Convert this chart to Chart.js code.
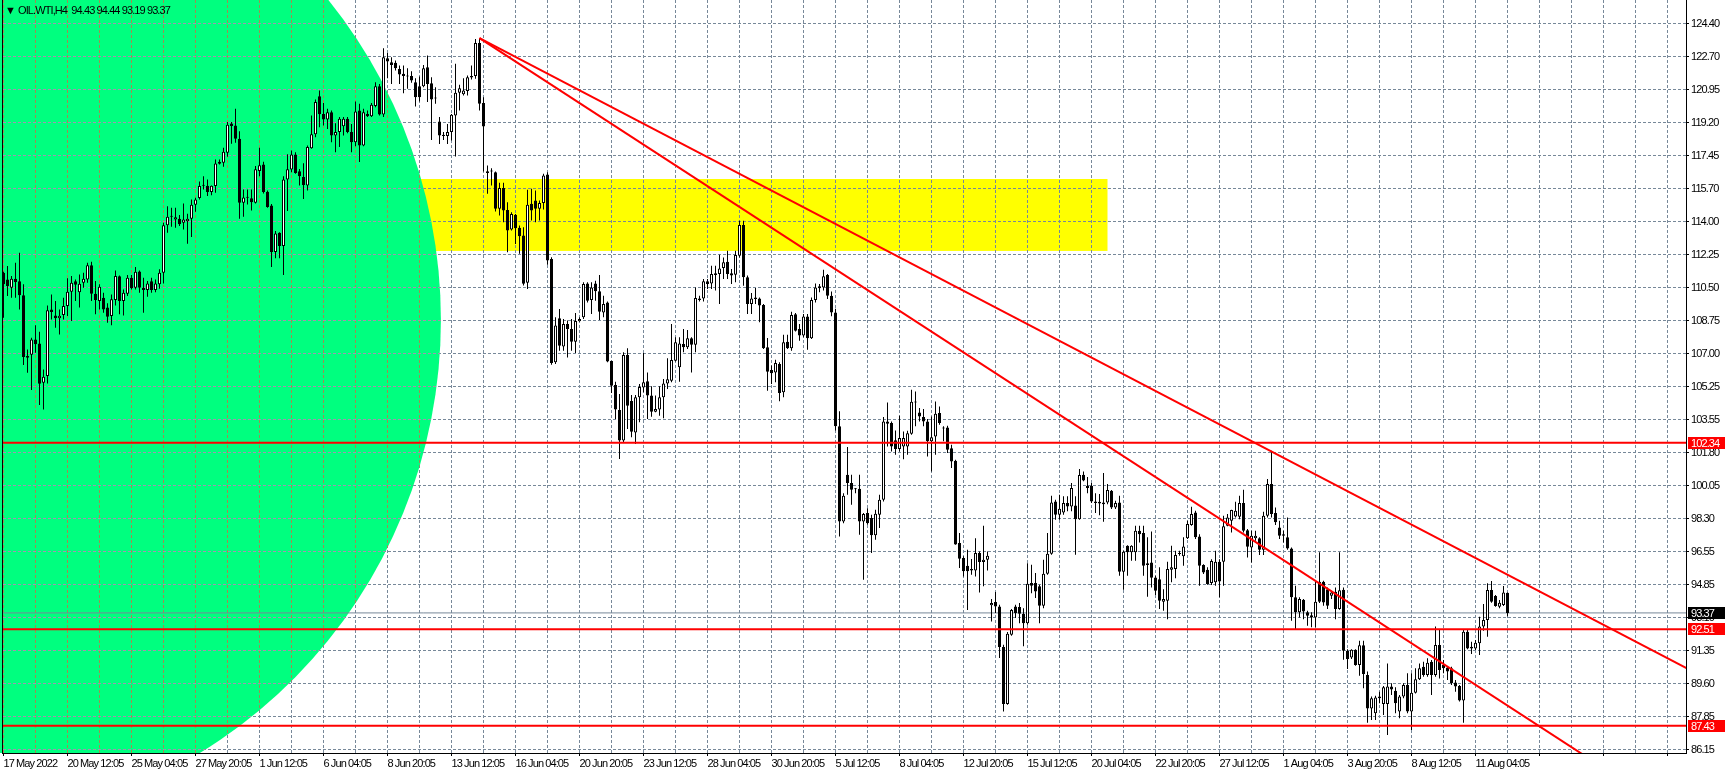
<!DOCTYPE html>
<html>
<head>
<meta charset="utf-8">
<title>OIL.WTI,H4</title>
<script src="https://cdn.jsdelivr.net/npm/chart.js@4.4.1/dist/chart.umd.min.js"></script>
<style>
  html, body { margin: 0; padding: 0; background: #ffffff; }
  #wrap { width: 1727px; height: 774px; }
</style>
</head>
<body>
<div id="wrap"><canvas id="chart" width="1727" height="774"></canvas></div>
<script>
// OIL.WTI H4 candles (one value per bar)
const symbol = 'OIL.WTI,H4';
const lastQuote = [94.43, 94.44, 93.19, 93.37];

const xLabels = ['17 May 2022', '20 May 12:05', '25 May 04:05', '27 May 20:05', '1 Jun 12:05',
  '6 Jun 04:05', '8 Jun 20:05', '13 Jun 12:05', '16 Jun 04:05', '20 Jun 20:05', '23 Jun 12:05',
  '28 Jun 04:05', '30 Jun 20:05', '5 Jul 12:05', '8 Jul 04:05', '12 Jul 20:05', '15 Jul 12:05',
  '20 Jul 04:05', '22 Jul 20:05', '27 Jul 12:05', '1 Aug 04:05', '3 Aug 20:05', '8 Aug 12:05',
  '11 Aug 04:05'];

const yLabels = ['86.15', '87.85', '89.60', '91.35', '93.10', '94.85', '96.55', '98.30', '100.05',
  '101.80', '103.55', '105.25', '107.00', '108.75', '110.50', '112.25', '114.00', '115.70',
  '117.45', '119.20', '120.95', '122.70', '124.40'];

const opens = [
  111.29,110.94,110.50,110.98,110.84,110.10,106.90,106.97,107.78,107.57,
  105.50,105.85,109.36,109.04,108.90,109.06,109.54,110.29,110.84,110.27,
  110.76,110.94,111.68,110.19,109.80,109.97,109.46,109.01,109.85,111.10,
  109.80,110.19,111.03,110.50,111.36,110.50,110.38,110.84,110.38,110.69,
  111.29,113.79,114.24,114.10,114.13,113.93,114.01,114.13,114.87,115.23,
  115.87,115.87,115.54,115.86,117.03,117.09,117.61,119.16,119.05,118.35,
  114.98,115.24,115.21,114.98,116.65,117.00,115.56,114.84,112.38,113.40,
  112.70,116.21,116.73,117.52,116.64,116.33,115.89,117.85,118.59,120.59,
  119.66,119.36,119.75,118.52,118.70,119.01,119.40,118.70,118.17,119.84,
  117.99,119.66,119.54,120.07,121.12,119.63,122.59,122.38,122.35,122.03,
  121.77,121.65,121.66,121.33,121.12,121.12,122.12,121.28,120.49,119.26,
  118.56,118.49,118.70,119.57,120.77,120.70,120.86,121.58,121.65,123.40,
  120.24,116.54,116.62,116.59,114.66,115.76,114.60,113.57,114.34,113.66,
  113.25,110.76,114.92,115.10,114.66,114.97,116.47,112.02,106.58,108.89,
  107.41,108.59,108.33,107.66,108.73,108.94,110.73,109.85,110.73,110.31,
  109.20,109.73,106.64,105.38,104.06,102.45,106.96,104.53,102.88,104.73,
  105.25,105.57,104.82,103.97,104.08,104.73,105.46,105.60,106.66,106.31,
  107.54,107.36,107.84,107.50,109.85,109.94,110.84,110.73,111.17,111.23,
  111.54,111.87,111.26,111.19,112.19,113.81,111.05,109.64,109.91,109.94,
  109.59,107.36,106.17,106.04,106.48,104.99,107.66,107.31,109.10,108.33,
  107.98,108.98,107.84,109.85,110.47,110.52,111.17,110.08,109.20,103.20,
  98.19,100.65,100.21,99.91,99.91,98.19,98.63,98.37,97.46,98.54,
  99.33,103.46,103.37,102.46,102.00,102.14,102.14,102.81,104.51,103.93,
  103.69,103.46,102.41,102.67,103.90,103.11,103.14,102.05,101.39,97.05,
  96.26,95.86,95.68,95.61,96.52,96.05,96.17,93.77,93.94,93.71,
  91.57,88.57,92.22,93.71,93.68,93.33,92.83,94.94,94.94,94.77,
  93.75,95.43,96.49,99.24,98.54,98.66,99.16,98.98,99.03,98.31,
  100.65,100.07,100.07,99.24,99.23,99.10,99.19,99.81,98.93,99.19,
  95.54,96.91,96.56,96.56,97.70,97.58,95.99,96.03,95.24,95.15,
  93.96,94.01,95.64,95.68,96.47,96.35,97.31,98.00,98.66,97.40,
  95.89,95.64,94.94,94.98,96.07,96.07,97.96,98.23,98.45,98.44,
  99.16,97.73,96.82,97.31,97.31,96.70,98.49,100.16,98.63,97.87,
  97.44,97.35,96.77,94.19,93.40,94.06,93.40,93.25,93.13,95.01,
  95.01,94.62,94.27,94.48,93.57,94.59,91.38,91.02,91.43,90.62,
  91.67,90.10,88.34,88.08,88.87,88.57,88.57,89.49,89.27,88.17,
  88.96,89.57,88.17,89.17,89.87,90.54,90.10,90.80,90.10,91.68,
  90.63,90.49,90.45,89.70,89.52,88.75,92.38,91.59,91.50,91.77,
  92.65,93.00,94.58,94.26,93.70,93.79,94.43
];

const highs = [
  111.35,111.64,111.12,111.82,112.35,110.68,107.25,107.87,108.52,108.18,
  106.20,109.57,110.15,109.80,109.36,109.97,111.00,111.12,110.94,111.20,
  111.29,111.82,111.87,110.85,110.68,110.24,109.68,110.15,111.41,111.15,
  110.41,111.17,111.17,111.59,111.41,111.03,110.85,111.03,110.94,111.47,
  113.93,114.80,114.72,114.72,114.33,114.94,114.40,115.15,115.24,116.10,
  116.37,116.21,115.89,117.26,117.26,117.88,119.23,119.23,119.93,118.75,
  115.68,115.68,115.68,116.91,117.88,117.14,115.63,114.91,113.49,113.42,
  116.37,117.53,117.73,117.64,116.76,117.06,117.99,119.57,120.42,120.89,
  120.24,119.93,119.84,119.17,119.49,119.49,119.49,119.13,120.31,120.19,
  119.93,119.84,120.24,121.33,121.24,123.12,122.87,122.65,122.47,122.21,
  122.21,122.07,121.91,121.54,121.63,122.24,122.73,121.59,121.07,119.49,
  118.70,119.13,119.66,122.30,121.19,121.54,121.68,122.21,123.61,123.65,
  120.54,116.94,116.80,116.62,116.03,116.03,115.01,114.48,114.39,113.78,
  113.69,115.66,115.71,115.62,115.10,116.50,116.59,112.11,108.95,109.38,
  108.85,108.77,108.85,109.17,108.94,110.79,110.79,110.79,110.87,111.17,
  110.08,109.77,106.66,105.55,104.90,107.10,107.31,104.85,104.85,105.43,
  107.06,106.04,105.31,104.82,105.31,105.69,106.78,108.59,107.89,107.89,
  108.33,108.27,107.89,110.52,110.08,110.96,110.96,111.66,111.66,112.24,
  112.10,112.45,111.49,112.45,114.03,114.03,111.14,110.22,110.49,109.99,
  109.64,107.85,106.40,106.71,106.57,108.03,108.03,109.24,109.17,108.59,
  109.12,109.12,109.99,110.73,110.70,111.45,111.23,110.30,109.40,103.99,
  99.68,102.11,100.65,99.95,100.65,98.63,98.89,98.54,98.81,99.60,
  103.69,104.46,103.46,102.98,103.76,102.93,102.97,105.13,105.04,104.16,
  104.11,103.58,103.72,104.51,104.25,103.20,103.23,102.23,101.44,97.58,
  96.35,96.70,96.21,97.31,96.61,97.96,96.61,94.10,94.47,93.80,
  91.69,92.36,93.57,93.80,93.89,93.62,95.99,95.91,95.47,94.85,
  96.17,97.58,99.54,99.33,99.60,99.51,99.51,100.21,99.51,100.95,
  100.82,100.53,100.21,99.68,99.63,100.74,100.16,99.84,99.28,99.54,
  96.64,96.94,96.94,97.96,97.96,97.96,97.35,97.66,95.33,95.77,
  94.62,96.07,96.91,96.64,96.64,97.35,98.23,98.96,98.75,97.52,
  95.94,95.77,96.20,96.64,96.20,98.49,98.58,98.80,99.23,99.54,
  99.86,97.79,97.70,97.70,97.35,98.70,100.42,101.91,98.93,98.23,
  97.70,98.40,96.82,94.80,94.19,94.10,93.48,93.40,95.10,96.56,
  95.06,94.71,94.54,94.71,96.56,94.71,91.46,91.46,91.46,91.90,
  91.90,90.28,88.96,89.00,89.22,89.52,90.71,89.66,89.45,89.05,
  89.66,90.19,90.19,90.45,90.71,90.80,90.98,90.89,92.65,92.47,
  90.89,90.54,90.54,89.83,89.57,92.47,92.47,91.85,91.94,93.17,
  93.84,94.93,95.05,94.31,94.05,94.79,94.44
];

const lows = [
  108.92,110.06,109.97,109.97,109.36,106.43,106.02,105.11,107.08,104.32,
  104.09,105.46,108.83,108.39,108.04,108.83,109.01,108.75,109.80,109.46,
  110.50,110.76,109.80,109.10,109.36,109.18,108.66,108.52,109.57,109.10,
  109.04,110.06,110.41,110.41,110.24,109.18,110.03,110.24,110.27,110.45,
  110.73,113.40,113.71,113.66,113.75,113.57,112.82,113.17,114.50,115.15,
  115.68,115.33,115.37,115.51,117.00,116.88,117.40,118.09,118.14,114.13,
  114.24,114.89,114.57,114.94,116.37,115.47,114.72,111.59,112.05,112.05,
  111.17,114.54,116.59,116.50,115.89,115.18,115.62,117.82,118.43,118.96,
  119.05,118.87,118.17,117.64,117.91,118.52,118.64,117.64,117.96,117.12,
  117.96,119.49,119.49,120.01,119.57,119.49,121.54,121.24,121.94,121.24,
  120.75,120.98,121.30,120.05,120.31,121.07,120.28,118.29,120.19,118.08,
  118.29,118.08,118.26,117.41,119.84,120.63,120.63,121.47,121.51,119.84,
  116.62,115.45,115.89,114.52,114.31,113.95,112.37,113.52,112.81,112.29,
  110.62,110.44,114.04,113.95,114.04,114.62,111.71,106.44,106.49,107.18,
  107.18,106.83,107.18,107.06,108.71,108.85,109.73,109.12,109.82,108.80,
  108.94,106.57,104.96,103.59,101.48,102.36,103.06,102.62,102.27,103.41,
  104.99,103.59,103.71,103.94,103.76,103.62,105.17,105.52,106.61,105.55,
  107.10,107.27,106.04,107.10,109.77,109.77,110.44,110.44,110.35,109.64,
  110.96,110.96,110.70,110.79,112.10,110.61,109.12,109.12,109.64,108.68,
  107.27,105.08,105.43,105.52,104.52,104.73,107.27,107.18,108.19,107.71,
  107.89,107.24,107.80,109.73,110.26,110.35,109.91,109.00,102.98,97.40,
  98.10,99.60,99.07,99.68,97.49,95.12,98.01,96.52,97.22,97.84,
  99.24,102.14,101.88,101.70,101.88,101.47,101.70,102.76,103.20,103.46,
  103.20,101.61,100.82,101.70,103.28,102.41,101.79,101.00,96.96,95.73,
  95.29,93.53,95.38,95.29,94.45,94.77,95.61,92.92,93.36,90.99,
  88.18,88.53,92.17,93.10,92.83,91.61,92.75,94.41,94.15,92.83,
  93.62,95.38,96.43,98.28,98.28,98.54,98.72,98.72,96.43,98.28,
  100.30,99.68,99.16,98.63,98.52,98.17,99.10,98.84,98.84,95.33,
  94.59,95.33,96.12,96.12,97.08,95.33,94.22,94.71,94.31,93.57,
  93.48,93.04,94.98,95.19,96.38,95.85,97.26,97.96,97.26,94.80,
  95.42,94.85,94.84,94.80,94.19,94.80,97.93,97.61,98.40,98.31,
  97.61,96.29,96.03,97.17,96.42,96.42,98.40,98.40,98.00,97.26,
  97.08,96.70,92.96,92.52,93.13,93.04,92.69,92.61,92.61,93.89,
  93.75,93.57,94.10,93.04,93.54,90.90,90.41,90.94,90.59,90.06,
  89.40,87.59,87.73,87.73,88.61,87.99,86.94,89.05,88.08,87.82,
  88.87,88.08,87.20,89.13,89.83,90.01,90.01,89.05,90.01,89.92,
  90.19,89.83,89.57,89.22,88.70,87.59,91.45,91.21,91.42,91.15,
  92.43,92.12,93.91,93.70,93.61,93.73,93.19
];

const closes = [
  110.68,110.59,110.98,110.80,110.10,106.85,106.81,107.78,107.52,105.44,
  105.81,109.31,109.22,108.90,109.03,109.54,110.29,110.76,110.66,110.71,
  110.98,111.68,110.19,109.85,110.55,109.36,108.97,109.89,111.12,109.80,
  110.24,111.03,110.47,111.34,110.50,110.38,110.73,110.38,110.73,111.29,
  113.79,114.24,114.26,114.21,113.84,114.10,114.13,114.87,115.15,115.86,
  115.89,115.54,115.87,117.05,117.14,117.67,119.09,119.02,118.35,114.98,
  115.26,115.26,115.01,116.74,116.95,115.54,114.75,112.38,113.36,112.70,
  116.21,116.74,117.52,116.55,116.38,115.92,117.91,118.59,120.28,119.64,
  119.36,119.75,118.52,118.70,119.40,119.40,118.70,118.17,119.78,117.99,
  119.75,119.54,120.14,121.12,119.63,122.65,122.42,122.24,122.07,121.73,
  121.65,121.63,121.42,120.54,120.54,122.07,121.24,120.42,120.47,118.52,
  118.49,118.70,119.61,120.77,121.01,120.89,121.59,121.65,123.40,120.19,
  119.00,116.64,116.64,114.66,115.75,114.57,113.52,114.38,113.64,113.22,
  110.71,114.87,114.57,114.66,114.97,116.41,111.93,106.53,108.51,107.45,
  108.59,108.33,107.66,108.75,108.85,110.70,109.82,110.52,110.31,109.24,
  109.64,106.61,105.34,104.08,102.45,106.96,104.29,102.92,104.73,105.27,
  105.52,104.82,103.97,104.11,104.73,105.46,105.68,106.69,107.63,107.57,
  107.36,107.84,107.50,109.96,109.94,110.84,110.70,111.23,111.26,111.52,
  111.84,111.23,111.14,112.23,113.81,111.05,109.64,109.94,109.99,109.56,
  107.31,106.08,105.99,106.54,104.96,107.63,107.31,109.06,108.24,107.98,
  108.98,107.84,109.85,110.52,110.58,111.10,110.08,109.20,103.20,98.19,
  99.54,100.21,99.86,99.89,98.19,98.58,98.10,97.46,98.59,99.33,
  103.46,103.34,102.14,102.00,102.58,102.58,102.84,104.50,104.46,103.72,
  103.46,102.41,102.62,103.86,103.37,103.09,101.97,101.35,96.98,96.22,
  95.56,95.56,95.61,96.52,96.05,96.17,96.38,93.89,93.71,91.57,
  88.57,92.27,93.53,93.36,93.33,92.83,94.91,94.80,94.50,93.75,
  95.43,96.49,99.19,98.54,98.86,99.16,98.98,99.95,98.31,100.63,
  100.35,99.95,99.24,99.16,99.14,99.19,99.84,98.93,99.16,95.54,
  96.59,96.56,96.91,97.70,97.52,95.85,95.89,95.22,94.54,94.01,
  94.10,95.68,95.77,96.42,96.49,96.87,98.05,98.58,97.35,95.85,
  95.50,94.89,96.10,96.07,95.03,97.93,98.40,98.79,98.75,99.16,
  97.70,96.86,97.44,97.44,96.70,98.49,100.16,98.58,98.14,97.44,
  97.52,96.77,94.19,93.40,94.10,93.45,93.22,93.13,93.96,93.96,
  93.92,93.75,94.45,93.57,94.57,91.38,90.94,91.43,90.62,91.67,
  90.15,88.34,88.87,88.92,88.96,89.45,89.49,89.34,88.61,88.96,
  89.57,88.17,89.17,89.87,90.45,90.10,90.75,90.10,91.68,90.36,
  90.45,90.28,89.66,89.49,88.75,92.38,91.50,91.50,91.80,92.65,
  93.00,94.58,93.96,93.73,93.91,94.44,93.37
];

// chart objects, anchored in bar index / price
const levels = [102.34, 92.51, 87.43];
const bidPrice = 93.37;
const trendStart = [119, 123.65];
const trendEnds = [[430, 89.45], [430, 81.10]];
const zoneBars = [60, 276];
const zonePrices = [112.44, 116.23];
const ellipseCenter = [-14.9, 108.80];
const ellipseRadius = [124.25, 26.61];

const FONT = "'Liberation Sans', Arial, sans-serif";
const SQUEEZE = '-0.9px';   // the terminal font is narrower than Arial
const GRID = '#778899';
const GREEN = '#00ff7f';

const wickData = opens.map((o, i) => ({ x: i, y: [lows[i], highs[i]] }));
const bodyData = opens.map((o, i) => ({ x: i, y: [o, closes[i]] }));
const isUp = i => closes[i] >= opens[i];

function lineSet(points, color, width, order) {
  return {
    type: 'line', data: points.map(p => ({ x: p[0], y: p[1] })),
    borderColor: color, borderWidth: width, pointRadius: 0, fill: false,
    tension: 0, order: order
  };
}

const alignPx = p => Math.round(p - 0.5) + 0.5;

function ellipsePath(chart) {
  const { ctx, scales: { x, y } } = chart;
  const cx = x.getPixelForValue(ellipseCenter[0]);
  const cy = y.getPixelForValue(ellipseCenter[1]);
  const rx = x.getPixelForValue(ellipseCenter[0] + ellipseRadius[0]) - cx;
  const ry = cy - y.getPixelForValue(ellipseCenter[1] + ellipseRadius[1]);
  ctx.beginPath();
  ctx.ellipse(cx, cy, rx, ry, 0, 0, Math.PI * 2);
}

const backdrop = {
  id: 'backdrop',
  beforeDraw(chart) {
    const { ctx, chartArea: a, scales: { x, y } } = chart;
    ctx.save();
    ctx.fillStyle = '#ffffff';
    ctx.fillRect(0, 0, chart.width, chart.height);
    ctx.beginPath();
    ctx.rect(0, 0, a.right, a.bottom);
    ctx.clip();
    const zx1 = x.getPixelForValue(zoneBars[0]);
    const zx2 = x.getPixelForValue(zoneBars[1]);
    const zy1 = y.getPixelForValue(zonePrices[1]);
    const zy2 = y.getPixelForValue(zonePrices[0]);
    ctx.fillStyle = '#ffff00';
    ctx.fillRect(zx1, zy1, zx2 - zx1, zy2 - zy1);
    ellipsePath(chart);
    ctx.fillStyle = GREEN;
    ctx.fill();
    ctx.restore();
    ctx.letterSpacing = SQUEEZE;
  },
  beforeDatasetsDraw(chart) {
    // grid shows in other tints where it crosses the green ellipse
    const { ctx, chartArea: a, scales: { x, y } } = chart;
    ctx.save();
    ctx.beginPath();
    ctx.rect(a.left, a.top, a.right - a.left, a.bottom - a.top);
    ctx.clip();
    ellipsePath(chart);
    ctx.clip();
    ctx.lineWidth = 1;
    ctx.setLineDash([3, 2]);
    ctx.strokeStyle = '#a08c50';
    x.ticks.forEach(t => {
      const px = alignPx(x.getPixelForValue(t.value));
      ctx.beginPath(); ctx.moveTo(px, a.top); ctx.lineTo(px, a.bottom); ctx.stroke();
    });
    ctx.strokeStyle = '#a78fb0';
    y.ticks.forEach(t => {
      const py = alignPx(y.getPixelForValue(t.value));
      ctx.beginPath(); ctx.moveTo(a.left, py); ctx.lineTo(a.right, py); ctx.stroke();
    });
    ctx.restore();
  },
  afterDraw(chart) {
    const { ctx, chartArea: a, scales: { y } } = chart;
    ctx.save();
    ctx.letterSpacing = SQUEEZE;
    // left frame
    ctx.fillStyle = '#000000';
    ctx.fillRect(a.left - 1, 0, 1, a.bottom + 1);
    // header
    ctx.font = '11px ' + FONT;
    ctx.textBaseline = 'middle';
    ctx.fillText('\u25BC', 5, 11);
    ctx.fillText(symbol + '  ' + lastQuote.map(v => v.toFixed(2)).join(' '), 18, 11);
    // price tags on the axis
    const tags = [[levels[0], '#ff0000'], [bidPrice, '#000000'], [levels[1], '#ff0000'], [levels[2], '#ff0000']];
    tags.forEach(([price, bg]) => {
      const py = Math.round(y.getPixelForValue(price));
      ctx.fillStyle = bg;
      ctx.fillRect(a.right + 2, py - 6, 37, 12);
      ctx.fillStyle = '#ffffff';
      ctx.fillText(price.toFixed(2), a.right + 5, py + 0.5);
    });
    ctx.restore();
  }
};

const yLow = Number(yLabels[0]);
const yStep = (Number(yLabels[yLabels.length - 1]) - yLow) / (yLabels.length - 1);

new Chart(document.getElementById('chart'), {
  type: 'line',
  data: {
    datasets: [
      lineSet([[-1, bidPrice], [430, bidPrice]], GRID, 1, 6),
      {
        type: 'bar', data: wickData, backgroundColor: '#000000', borderWidth: 0,
        barThickness: 1, grouped: false, inflateAmount: 0, order: 5
      },
      {
        type: 'bar', data: bodyData,
        backgroundColor: ctx => isUp(ctx.dataIndex) ? '#ffffff' : '#000000',
        borderColor: '#000000', borderWidth: 1, borderSkipped: false,
        barThickness: 3, grouped: false, inflateAmount: 0, minBarLength: 1, order: 4
      },
      lineSet([[-1, levels[0]], [430, levels[0]]], '#ff0000', 2, 1),
      lineSet([[-1, levels[1]], [430, levels[1]]], '#ff0000', 2, 1),
      lineSet([[-1, levels[2]], [430, levels[2]]], '#ff0000', 2, 1),
      lineSet([trendStart, trendEnds[0]], '#ff0000', 2, 1),
      lineSet([trendStart, trendEnds[1]], '#ff0000', 2, 1)
    ]
  },
  options: {
    responsive: false,
    animation: false,
    events: [],
    layout: { padding: { left: 3, top: 0, right: 0, bottom: 0 } },
    plugins: { legend: { display: false }, tooltip: { enabled: false } },
    scales: {
      x: {
        type: 'linear', position: 'bottom', min: -0.125, max: 420.625, offset: false,
        afterBuildTicks: s => {
          const t = [];
          for (let b = 0; b <= 416; b += 8) t.push({ value: b });
          s.ticks = t;
        },
        afterFit: s => { s.height = 21; s.paddingLeft = 0; s.paddingRight = 0; },
        ticks: {
          autoSkip: false, maxRotation: 0, minRotation: 0, align: 'start', padding: 1,
          color: '#000000', font: { family: FONT, size: 11 },
          callback: v => (v % 16 === 0 && xLabels[v / 16]) ? xLabels[v / 16] : ''
        },
        grid: {
          offset: false, color: GRID, lineWidth: 1, drawTicks: true, tickLength: 3,
          tickColor: c => (c.tick && c.tick.value % 16 === 0) ? '#000000' : 'rgba(0,0,0,0)'
        },
        border: { display: true, color: '#000000', width: 1, dash: [3, 2] }
      },
      y: {
        type: 'linear', position: 'right', min: 85.99, max: 125.66,
        afterBuildTicks: s => { s.ticks = yLabels.map((l, i) => ({ value: yLow + i * yStep })); },
        afterFit: s => { s.width = 41; s.paddingTop = 0; s.paddingBottom = 0; },
        ticks: {
          padding: 2, color: '#000000', font: { family: FONT, size: 11 },
          callback: (v, i) => yLabels[i]
        },
        grid: { color: GRID, lineWidth: 1, drawTicks: true, tickLength: 3, tickColor: '#000000' },
        border: { display: true, color: '#000000', width: 1, dash: [3, 2] }
      }
    }
  },
  plugins: [backdrop]
});
</script>
</body>
</html>
